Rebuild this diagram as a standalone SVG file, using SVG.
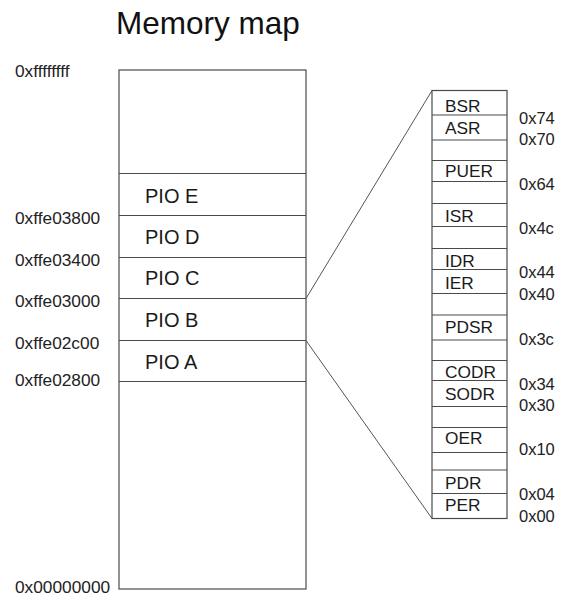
<svg xmlns="http://www.w3.org/2000/svg" width="563" height="596" viewBox="0 0 563 596">
  <style>
    .box { fill: #ffffff; stroke: #4a4a4a; stroke-width: 1.2; }
    .sep { stroke: #4a4a4a; stroke-width: 1.1; }
    .link { stroke: #555555; stroke-width: 1; fill: none; }
    .title { font-family: "Liberation Sans", Arial, sans-serif; font-size: 31.5px; fill: #111111; }
    .addr { font-family: "Liberation Sans", Arial, sans-serif; font-size: 17.3px; fill: #222222; }
    .pio { font-family: "Liberation Sans", Arial, sans-serif; font-size: 20px; fill: #1a1a1a; }
    .reg { font-family: "Liberation Sans", Arial, sans-serif; font-size: 17.3px; fill: #1a1a1a; }
    .off { font-family: "Liberation Sans", Arial, sans-serif; font-size: 16.5px; fill: #222222; }
  </style>
  <rect width="563" height="596" fill="#ffffff"/>

  <text class="title" x="116" y="34">Memory map</text>

  <!-- full address space with the PIO blocks -->
  <g id="memory-map">
    <rect class="box" x="119" y="70" width="187" height="519"/>
    <line class="sep" x1="119" y1="173.5" x2="306" y2="173.5"/>
    <line class="sep" x1="119" y1="215.5" x2="306" y2="215.5"/>
    <line class="sep" x1="119" y1="257.5" x2="306" y2="257.5"/>
    <line class="sep" x1="119" y1="298.5" x2="306" y2="298.5"/>
    <line class="sep" x1="119" y1="340.5" x2="306" y2="340.5"/>
    <line class="sep" x1="119" y1="381.5" x2="306" y2="381.5"/>
    <text class="pio" x="145" y="203">PIO E</text>
    <text class="pio" x="145" y="244">PIO D</text>
    <text class="pio" x="145" y="285">PIO C</text>
    <text class="pio" x="145" y="327">PIO B</text>
    <text class="pio" x="145" y="369">PIO A</text>
  </g>

  <g id="address-labels">
    <text class="addr" x="15" y="77">0xffffffff</text>
    <text class="addr" x="15" y="224">0xffe03800</text>
    <text class="addr" x="15" y="265.5">0xffe03400</text>
    <text class="addr" x="15" y="307">0xffe03000</text>
    <text class="addr" x="15" y="348.5">0xffe02c00</text>
    <text class="addr" x="15" y="386">0xffe02800</text>
    <text class="addr" x="15" y="593">0x00000000</text>
  </g>

  <!-- zoom lines from PIO B to its register block -->
  <g id="connectors">
    <line class="link" x1="306" y1="298.5" x2="432" y2="90.5"/>
    <line class="link" x1="306" y1="340.5" x2="432" y2="518.5"/>
  </g>

  <!-- PIO register block -->
  <g id="pio-registers">
    <rect class="box" x="432" y="90.5" width="75" height="428"/>
    <g class="sep">
      <line x1="432" y1="115" x2="507" y2="115"/>
      <line x1="432" y1="140" x2="507" y2="140"/>
      <line x1="432" y1="160.5" x2="507" y2="160.5"/>
      <line x1="432" y1="181.5" x2="507" y2="181.5"/>
      <line x1="432" y1="203.5" x2="507" y2="203.5"/>
      <line x1="432" y1="226.5" x2="507" y2="226.5"/>
      <line x1="432" y1="248.5" x2="507" y2="248.5"/>
      <line x1="432" y1="269.5" x2="507" y2="269.5"/>
      <line x1="432" y1="293.5" x2="507" y2="293.5"/>
      <line x1="432" y1="315" x2="507" y2="315"/>
      <line x1="432" y1="340" x2="507" y2="340"/>
      <line x1="432" y1="360.5" x2="507" y2="360.5"/>
      <line x1="432" y1="380.5" x2="507" y2="380.5"/>
      <line x1="432" y1="406.5" x2="507" y2="406.5"/>
      <line x1="432" y1="427.5" x2="507" y2="427.5"/>
      <line x1="432" y1="452.5" x2="507" y2="452.5"/>
      <line x1="432" y1="470" x2="507" y2="470"/>
      <line x1="432" y1="493.5" x2="507" y2="493.5"/>
    </g>
    <text class="reg" x="445" y="111.5">BSR</text>
    <text class="reg" x="445" y="133.5">ASR</text>
    <text class="reg" x="445" y="177">PUER</text>
    <text class="reg" x="445" y="222">ISR</text>
    <text class="reg" x="445" y="267">IDR</text>
    <text class="reg" x="445" y="288.5">IER</text>
    <text class="reg" x="445" y="333">PDSR</text>
    <text class="reg" x="445" y="377.5">CODR</text>
    <text class="reg" x="445" y="400">SODR</text>
    <text class="reg" x="445" y="444">OER</text>
    <text class="reg" x="445" y="489">PDR</text>
    <text class="reg" x="445" y="511">PER</text>
  </g>

  <g id="register-offsets">
    <text class="off" x="519" y="123.5">0x74</text>
    <text class="off" x="519" y="145">0x70</text>
    <text class="off" x="519" y="189.5">0x64</text>
    <text class="off" x="519" y="234">0x4c</text>
    <text class="off" x="519" y="277.5">0x44</text>
    <text class="off" x="519" y="300">0x40</text>
    <text class="off" x="519" y="345">0x3c</text>
    <text class="off" x="519" y="389.5">0x34</text>
    <text class="off" x="519" y="411">0x30</text>
    <text class="off" x="519" y="455">0x10</text>
    <text class="off" x="519" y="500">0x04</text>
    <text class="off" x="519" y="522">0x00</text>
  </g>
</svg>
